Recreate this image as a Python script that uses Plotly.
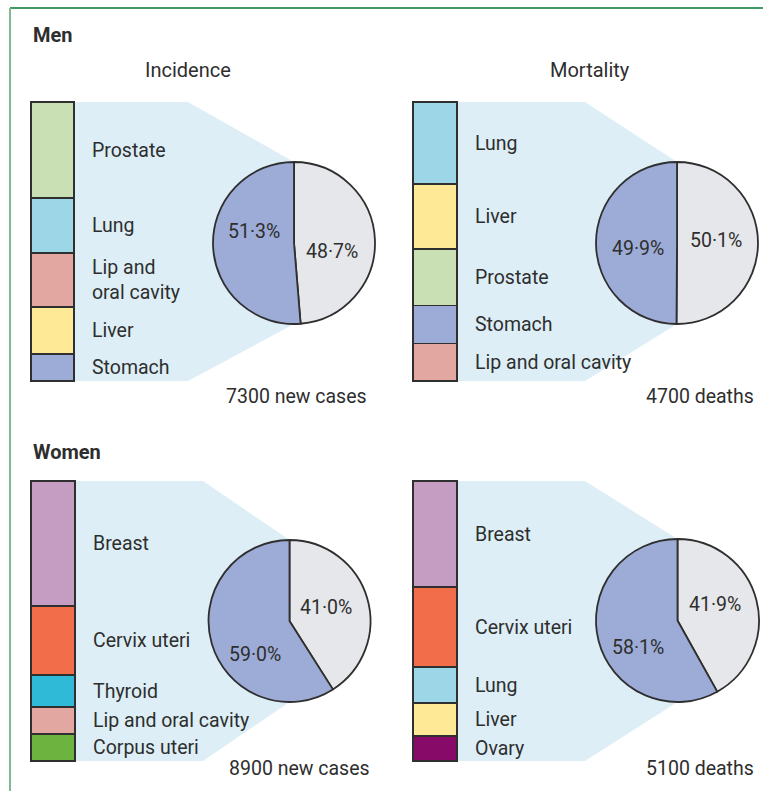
import plotly.graph_objects as go

W, H = 763, 791

# ---------------- data ----------------
men_inc_sites = ["Prostate", "Lung", "Lip and<br>oral cavity", "Liver", "Stomach"]
men_inc_pct = [17.7, 10.1, 9.9, 8.6, 5.0]
men_inc_top5 = 51.3
men_inc_other = 48.7
men_inc_caption = "7300 new cases"

men_mort_sites = ["Lung", "Liver", "Prostate", "Stomach", "Lip and oral cavity"]
men_mort_pct = [14.7, 11.6, 10.1, 6.8, 6.7]
men_mort_top5 = 49.9
men_mort_other = 50.1
men_mort_caption = "4700 deaths"

women_inc_sites = ["Breast", "Cervix uteri", "Thyroid", "Lip and oral cavity", "Corpus uteri"]
women_inc_pct = [26.3, 14.5, 6.9, 5.6, 5.7]
women_inc_top5 = 59.0
women_inc_other = 41.0
women_inc_caption = "8900 new cases"

women_mort_sites = ["Breast", "Cervix uteri", "Lung", "Liver", "Ovary"]
women_mort_pct = [22.0, 16.6, 7.5, 6.8, 5.2]
women_mort_top5 = 58.1
women_mort_other = 41.9
women_mort_caption = "5100 deaths"

# ---------------- styles ----------------
site_colors = {
    "Prostate": "#c9e0b4",
    "Lung": "#9dd6e6",
    "Lip and oral cavity": "#e2a7a1",
    "Liver": "#fee996",
    "Stomach": "#9dacd6",
    "Breast": "#c59dc2",
    "Cervix uteri": "#f26d4a",
    "Thyroid": "#2fbad7",
    "Corpus uteri": "#6db33f",
    "Ovary": "#870a68",
}
PIE_GREY = "#e6e7ea"
PIE_BLUE = "#9dacd6"
FUNNEL = "#ddeef6"
OUTLINE = "#2f2f2f"
TEXT = "#2e2e2e"
FONT = "Roboto, sans-serif"
FS = 19.5
LW = 1.8
PAD = 3  # px of room around bars so outlines are not clipped

# layout (pixel boxes)
panels = [
    dict(sites=men_inc_sites, pct=men_inc_pct, top5=men_inc_top5, other=men_inc_other,
         caption=men_inc_caption, bar=(31, 74, 102, 381), pie=(294, 243, 81), funnel_x=188,
         lab_off=[(37.7, 8), (-40.5, -12)], cap_xy=(369, 396)),
    dict(sites=men_mort_sites, pct=men_mort_pct, top5=men_mort_top5, other=men_mort_other,
         caption=men_mort_caption, bar=(413, 457, 102, 381), pie=(677, 243, 81), funnel_x=585,
         lab_off=[(39, -3), (-39.5, 5)], cap_xy=(756, 396)),
    dict(sites=women_inc_sites, pct=women_inc_pct, top5=women_inc_top5, other=women_inc_other,
         caption=women_inc_caption, bar=(31, 75, 481, 761), pie=(289.5, 621, 81), funnel_x=203,
         lab_off=[(36, -13.5), (-34.5, 33.5)], cap_xy=(372, 768)),
    dict(sites=women_mort_sites, pct=women_mort_pct, top5=women_mort_top5, other=women_mort_other,
         caption=women_mort_caption, bar=(413, 457, 481, 761), pie=(677.5, 620.5, 81.5), funnel_x=585,
         lab_off=[(37.5, -16), (-39.5, 27)], cap_xy=(756, 768)),
]


def px(x):
    return x / W


def py(y):
    return 1 - y / H


def fmt_pct(v):
    return f"{v:.1f}".replace(".", "\u00b7") + "%"


fig = go.Figure()
annotations = []
shapes = []
layout_axes = {}

for i, p in enumerate(panels):
    n = i + 1
    xname = "x" if n == 1 else f"x{n}"
    yname = "y" if n == 1 else f"y{n}"
    x0, x1, y0, y1 = p["bar"]
    total = sum(p["pct"])
    bw, bh = x1 - x0, y1 - y0
    hx = 0.5 * (bw + 2 * PAD) / bw
    ey = total * PAD / bh
    layout_axes["xaxis" if n == 1 else f"xaxis{n}"] = dict(
        domain=[px(x0 - PAD), px(x1 + PAD)], range=[-hx, hx], visible=False,
        fixedrange=True, anchor=yname)
    layout_axes["yaxis" if n == 1 else f"yaxis{n}"] = dict(
        domain=[py(y1 + PAD), py(y0 - PAD)], range=[-ey, total + ey], visible=False,
        fixedrange=True, anchor=xname)

    # stacked bar: bottom segment first
    for site, v in reversed(list(zip(p["sites"], p["pct"]))):
        key = site.replace("<br>", " ")
        fig.add_trace(go.Bar(
            x=[0], y=[v], width=1, xaxis=xname, yaxis=yname,
            marker=dict(color=site_colors[key], line=dict(color=OUTLINE, width=LW)),
            showlegend=False, hoverinfo="skip"))

    # labels beside bar segments
    cum = 0
    for site, v in zip(p["sites"], p["pct"]):
        mid = total - (cum + v / 2)
        cum += v
        annotations.append(dict(
            x=0.5, y=mid, xref=xname, yref=yname, xshift=16, xanchor="left", yanchor="middle",
            text=site, showarrow=False, align="left",
            font=dict(family=FONT, size=FS, color=TEXT)))

    # pie
    cx, cy, r = p["pie"]
    fig.add_trace(go.Pie(
        values=[p["other"], p["top5"]], sort=False, direction="clockwise", rotation=0,
        marker=dict(colors=[PIE_GREY, PIE_BLUE], line=dict(color=OUTLINE, width=LW)),
        textinfo="none", hoverinfo="skip", showlegend=False,
        domain=dict(x=[px(cx - r), px(cx + r)], y=[py(cy + r), py(cy - r)])))
    for v, (dx, dy) in zip([p["other"], p["top5"]], p["lab_off"]):
        annotations.append(dict(
            x=px(cx + dx), y=py(cy + dy), xref="paper", yref="paper",
            text=fmt_pct(v), showarrow=False, xanchor="center", yanchor="middle",
            font=dict(family=FONT, size=FS, color=TEXT)))

    # funnel connector
    fx = p["funnel_x"]
    pts = [(x1, y0), (fx, y0), (cx, cy - r), (cx, cy + r), (fx, y1), (x1, y1)]
    path = "M " + " L ".join(f"{px(a):.5f},{py(b):.5f}" for a, b in pts) + " Z"
    shapes.append(dict(type="path", path=path, xref="paper", yref="paper",
                       fillcolor=FUNNEL, line=dict(width=0), layer="below"))

    # caption
    cxp, cyp = p["cap_xy"]
    annotations.append(dict(
        x=px(cxp), y=py(cyp), xref="paper", yref="paper", text=p["caption"],
        showarrow=False, xanchor="right", yanchor="middle",
        font=dict(family=FONT, size=FS, color=TEXT)))

# headings
for txt, x, y, anchor, bold in [("Men", 31, 35, "left", True), ("Women", 31, 452, "left", True),
                                 ("Incidence", 188, 70, "center", False),
                                 ("Mortality", 590, 70, "center", False)]:
    annotations.append(dict(
        x=px(x), y=py(y), xref="paper", yref="paper",
        text=f"<b>{txt}</b>" if bold else txt, showarrow=False,
        xanchor=anchor, yanchor="middle",
        font=dict(family=FONT, size=20, color=TEXT)))

# green frame (top and left edges)
shapes.append(dict(type="line", xref="paper", yref="paper", x0=px(10), x1=1.01,
                   y0=py(8), y1=py(8), line=dict(color="#3f9a66", width=2)))
shapes.append(dict(type="line", xref="paper", yref="paper", x0=px(10), x1=px(10),
                   y0=py(8), y1=-0.01, line=dict(color="#7dbb94", width=2)))

fig.update_layout(
    width=W, height=H, margin=dict(l=0, r=0, t=0, b=0),
    paper_bgcolor="white", plot_bgcolor="rgba(0,0,0,0)",
    barmode="stack", bargap=0,
    annotations=annotations, shapes=shapes,
    font=dict(family=FONT, size=FS, color=TEXT),
    **layout_axes)

fig.write_html(
    "out.html",
    config={"displayModeBar": False, "staticPlot": True},
    post_script="document.body.style.margin='0';document.body.style.overflow='hidden';")
